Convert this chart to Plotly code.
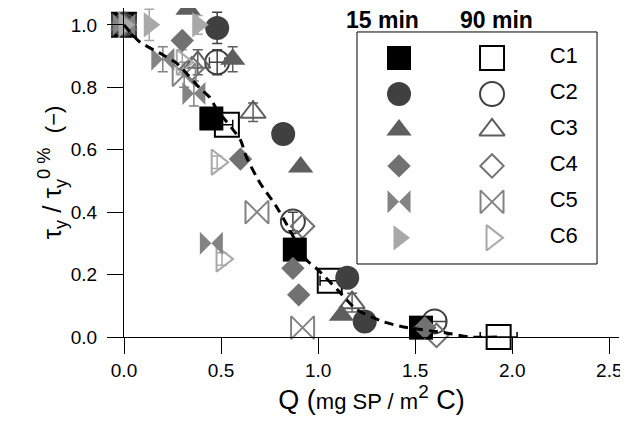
import plotly.graph_objects as go

# ---------------- data ----------------
series_names = ["C1", "C2", "C3", "C4", "C5", "C6"]
series_colors = ["#000000", "#404040", "#5e5e5e", "#717171", "#838383", "#a8a8a8"]
series_symbols = ["square", "circle", "triangle-up", "diamond", "bowtie", "triangle-right"]
series_sizes = [24, 24, 22, 18, 23, 22]

# 15 min (filled markers)
c1_15_x = [0.0, 0.45, 0.88, 1.53]
c1_15_y = [1.0, 0.70, 0.28, 0.03]
c2_15_x = [0.0, 0.48, 0.82, 1.15, 1.24]
c2_15_y = [1.0, 0.99, 0.65, 0.19, 0.05]
c3_15_x = [0.0, 0.33, 0.56, 0.91, 1.12]
c3_15_y = [1.0, 1.05, 0.89, 0.545, 0.07]
c4_15_x = [0.0, 0.30, 0.60, 0.87, 0.90, 1.55]
c4_15_y = [1.0, 0.95, 0.57, 0.22, 0.135, 0.03]
c5_15_x = [0.0, 0.20, 0.36, 0.45]
c5_15_y = [1.0, 0.89, 0.78, 0.30]
c6_15_x = [0.0, 0.13, 0.27, 0.38]
c6_15_y = [1.0, 1.0, 1.06, 1.0]

# 90 min (open markers)
c1_90_x = [0.0, 0.53, 1.06, 1.93]
c1_90_y = [1.0, 0.68, 0.18, 0.0]
c2_90_x = [0.0, 0.48, 0.87, 1.60]
c2_90_y = [1.0, 0.88, 0.37, 0.05]
c3_90_x = [0.0, 0.38, 0.665, 1.175]
c3_90_y = [1.0, 0.88, 0.72, 0.11]
c4_90_x = [0.0, 0.35, 0.92, 1.61]
c4_90_y = [1.0, 0.86, 0.355, 0.005]
c5_90_x = [0.0, 0.31, 0.685, 0.92]
c5_90_y = [1.0, 0.84, 0.40, 0.03]
c6_90_x = [0.0, 0.30, 0.48, 0.505]
c6_90_y = [1.0, 0.88, 0.56, 0.25]

# error bars (0 = none)
c1_15_xerr = [0, 0, 0, 0.04]
c1_15_yerr = [0, 0, 0, 0]
c2_15_xerr = [0, 0, 0, 0, 0]
c2_15_yerr = [0, 0.05, 0, 0, 0]
c3_15_xerr = [0, 0, 0, 0, 0]
c3_15_yerr = [0, 0, 0.04, 0, 0]
c4_15_xerr = [0, 0, 0, 0, 0, 0]
c4_15_yerr = [0, 0, 0, 0, 0, 0]
c5_15_xerr = [0, 0, 0, 0]
c5_15_yerr = [0.03, 0.04, 0.04, 0]
c6_15_xerr = [0, 0, 0, 0]
c6_15_yerr = [0, 0.05, 0, 0.03]
c1_90_xerr = [0, 0.03, 0.05, 0.095]
c1_90_yerr = [0, 0, 0, 0]
c2_90_xerr = [0, 0.04, 0, 0.06]
c2_90_yerr = [0, 0.04, 0.03, 0]
c3_90_xerr = [0, 0, 0, 0]
c3_90_yerr = [0, 0.04, 0.03, 0.03]
c4_90_xerr = [0, 0, 0, 0]
c4_90_yerr = [0, 0, 0, 0]
c5_90_xerr = [0, 0, 0, 0]
c5_90_yerr = [0.03, 0.04, 0, 0]
c6_90_xerr = [0, 0, 0, 0]
c6_90_yerr = [0, 0.04, 0.02, 0.02]

# dashed guide curve (traced)
curve_x = [0.0, 0.08, 0.20, 0.27, 0.39, 0.44, 0.48, 0.60, 0.63, 0.70, 0.78, 0.84,
           0.94, 1.00, 1.10, 1.20, 1.34, 1.44, 1.66, 1.78, 1.95]
curve_y = [1.0, 0.946, 0.904, 0.878, 0.798, 0.769, 0.728, 0.631, 0.577, 0.494, 0.423,
           0.359, 0.247, 0.215, 0.151, 0.087, 0.048, 0.032, 0.013, 0.0, 0.0]

x_ticks = [0.0, 0.5, 1.0, 1.5, 2.0, 2.5]
y_ticks = [0.0, 0.2, 0.4, 0.6, 0.8, 1.0]
header_labels = ["15 min", "90 min"]

data15 = [(c1_15_x, c1_15_y, c1_15_xerr, c1_15_yerr), (c2_15_x, c2_15_y, c2_15_xerr, c2_15_yerr),
          (c3_15_x, c3_15_y, c3_15_xerr, c3_15_yerr), (c4_15_x, c4_15_y, c4_15_xerr, c4_15_yerr),
          (c5_15_x, c5_15_y, c5_15_xerr, c5_15_yerr), (c6_15_x, c6_15_y, c6_15_xerr, c6_15_yerr)]
data90 = [(c1_90_x, c1_90_y, c1_90_xerr, c1_90_yerr), (c2_90_x, c2_90_y, c2_90_xerr, c2_90_yerr),
          (c3_90_x, c3_90_y, c3_90_xerr, c3_90_yerr), (c4_90_x, c4_90_y, c4_90_xerr, c4_90_yerr),
          (c5_90_x, c5_90_y, c5_90_xerr, c5_90_yerr), (c6_90_x, c6_90_y, c6_90_xerr, c6_90_yerr)]

FONT = "Liberation Sans, Arial, sans-serif"
fig = go.Figure()


def add_errors(xs, ys, xe, ye, color):
    ix = [i for i in range(len(xs)) if xe[i] > 0]
    iy = [i for i in range(len(xs)) if ye[i] > 0]
    if ix:
        fig.add_trace(go.Scatter(
            x=[xs[i] for i in ix], y=[ys[i] for i in ix], mode="markers",
            marker=dict(size=1, opacity=0), cliponaxis=False, showlegend=False, hoverinfo="skip",
            error_x=dict(type="data", array=[xe[i] for i in ix], color=color, thickness=1.5, width=5)))
    if iy:
        fig.add_trace(go.Scatter(
            x=[xs[i] for i in iy], y=[ys[i] for i in iy], mode="markers",
            marker=dict(size=1, opacity=0), cliponaxis=False, showlegend=False, hoverinfo="skip",
            error_y=dict(type="data", array=[ye[i] for i in iy], color=color, thickness=1.5, width=5)))


# error bars first (under markers)
for k in range(6):
    for (xs, ys, xe, ye) in (data15[k], data90[k]):
        add_errors(xs, ys, xe, ye, series_colors[k])

# 90 min open markers, then 15 min filled markers
for k in range(6):
    xs, ys, _, _ = data90[k]
    fig.add_trace(go.Scatter(
        x=xs, y=ys, mode="markers", name=series_names[k] + " 90 min", cliponaxis=False, showlegend=False,
        marker=dict(symbol=series_symbols[k] + "-open", size=series_sizes[k], color=series_colors[k],
                    line=dict(width=2, color=series_colors[k]))))
for k in range(6):
    xs, ys, _, _ = data15[k]
    fig.add_trace(go.Scatter(
        x=xs, y=ys, mode="markers", name=series_names[k] + " 15 min", cliponaxis=False, showlegend=False,
        marker=dict(symbol=series_symbols[k], size=series_sizes[k], color=series_colors[k],
                    line=dict(width=0))))

# dashed curve on top
fig.add_trace(go.Scatter(x=curve_x, y=curve_y, mode="lines", showlegend=False, cliponaxis=False,
                         line=dict(color="black", width=3, dash="9px,6px", shape="spline", smoothing=0.6)))

# ---------------- custom legend ----------------
rows = list(range(len(series_names)))
for k in range(6):
    fig.add_trace(go.Scatter(
        x=[0], y=[rows[k]], xaxis="x2", yaxis="y2", mode="markers", showlegend=False, cliponaxis=False,
        marker=dict(symbol=series_symbols[k], size=series_sizes[k], color=series_colors[k])))
    fig.add_trace(go.Scatter(
        x=[1], y=[rows[k]], xaxis="x2", yaxis="y2", mode="markers", showlegend=False, cliponaxis=False,
        marker=dict(symbol=series_symbols[k] + "-open", size=series_sizes[k], color=series_colors[k],
                    line=dict(width=2, color=series_colors[k]))))
fig.add_trace(go.Scatter(
    x=[1.62] * 6, y=rows, xaxis="x2", yaxis="y2", mode="text", text=series_names,
    textposition="middle right", textfont=dict(family=FONT, size=22, color="black"),
    showlegend=False, cliponaxis=False))

# legend box: page px x 357..597, y 32..264 ; plot area page x 124..619, y 8..337
fig.add_shape(type="rect", xref="paper", yref="paper", x0=0.4707, x1=0.9556, y0=0.2219, y1=0.9271,
              line=dict(color="black", width=1), fillcolor="rgba(0,0,0,0)", layer="above")

for lbl, xp in zip(header_labels, [0.523, 0.7535]):
    fig.add_annotation(text="<b>" + lbl + "</b>", xref="paper", yref="paper", x=xp, y=0.9635,
                       showarrow=False, xanchor="center", yanchor="middle",
                       font=dict(family=FONT, size=23, color="black"))

axis_common = dict(showgrid=False, zeroline=False, showline=True, linecolor="black", linewidth=1,
                   ticks="outside", ticklen=16, tickwidth=1, tickcolor="black",
                   tickfont=dict(family=FONT, size=19, color="black"), tickformat=".1f")

# the page body has an 8px margin, so the figure is 8px smaller than the window
fig.update_layout(
    width=620, height=415,
    margin=dict(l=116, r=9, t=0, b=86, autoexpand=False),
    paper_bgcolor="white", plot_bgcolor="rgba(0,0,0,0)",
    font=dict(family=FONT, color="black"),
    showlegend=False,
    xaxis=dict(range=[0, 2.55], tickvals=x_ticks, **axis_common, ticklabelstandoff=0,
               title=dict(text="Q (<span style='font-size:22px'>mg SP / m</span><sup>2</sup> C)",
                          font=dict(family=FONT, size=27), standoff=6)),
    yaxis=dict(range=[0, 1.054], tickvals=y_ticks, **axis_common, ticklabelstandoff=6,
               title=dict(text="τ<sub>y</sub> / τ<sub>y</sub><sup>0 %</sup>  <span style='font-size:22px'>(−)</span>",
                          font=dict(family=FONT, size=26), standoff=0)),
    xaxis2=dict(domain=[0.4707, 0.9556], anchor="y2", range=[-0.452, 2.129], visible=False),
    yaxis2=dict(domain=[0.2219, 0.9271], anchor="x2", range=[5.727, -0.723], visible=False),
)

fig.write_html("out.html")
